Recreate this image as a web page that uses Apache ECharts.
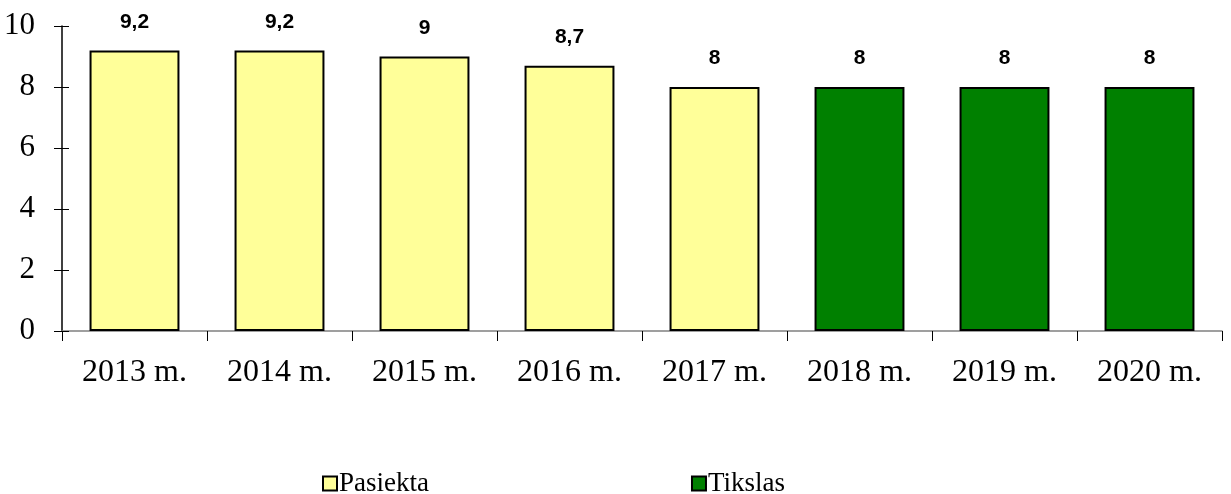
<!DOCTYPE html>
<html>
<head>
<meta charset="utf-8">
<script src="https://cdn.jsdelivr.net/npm/echarts@6/dist/echarts.min.js"></script>
<style>
  html, body { margin: 0; padding: 0; background: #fff; }
  #chart { width: 1231px; height: 494px; }
</style>
</head>
<body>
<div id="chart"></div>
<script>
var years = ['2013 m.', '2014 m.', '2015 m.', '2016 m.', '2017 m.', '2018 m.', '2019 m.', '2020 m.'];
var pasiekta = [9.2, 9.2, 9, 8.7, 8, null, null, null];
var tikslas = [null, null, null, null, null, 8, 8, 8];
var yTicks = [0, 2, 4, 6, 8, 10];

(function() {
  var serif = '"Liberation Serif", "Times New Roman", serif';
  var sans = '"Liberation Sans", Arial, sans-serif';

  var chart = echarts.init(document.getElementById('chart'), null, { renderer: 'canvas' });

  var label = {
    show: true,
    position: 'top',
    distance: 18,
    color: '#000',
    fontFamily: sans,
    fontWeight: 'bold',
    fontSize: 21,
    formatter: function(p) { return String(p.value).replace('.', ','); }
  };

  chart.setOption({
    animation: false,
    grid: { left: 62, right: 9, top: 26, bottom: 163 },
    legend: {
      left: 317,
      bottom: -8,
      itemGap: 262,
      itemWidth: 14,
      itemHeight: 14,
      icon: 'rect',
      itemStyle: { borderColor: '#000', borderWidth: 2 },
      textStyle: { fontFamily: serif, fontSize: 27, lineHeight: 27, color: '#000', padding: [0, 0, 0, -3] },
      data: ['Pasiekta', 'Tikslas']
    },
    xAxis: [{
      type: 'category',
      data: years,
      axisLine: { lineStyle: { color: '#808080', width: 1.5 } },
      axisTick: { show: true, length: 10, lineStyle: { color: '#000' } },
      axisLabel: { color: '#000', fontFamily: serif, fontSize: 32, margin: 26 }
    }, {
      type: 'category',
      data: years,
      position: 'bottom',
      axisLine: { show: false },
      axisTick: { show: true, inside: true, alignWithLabel: true, length: 7, lineStyle: { color: '#000' } },
      axisLabel: { show: false }
    }],
    yAxis: [{
      type: 'value',
      min: yTicks[0],
      max: yTicks[yTicks.length - 1],
      interval: 2,
      axisLine: { show: true, lineStyle: { color: '#000', width: 1.5 } },
      axisTick: { show: true, length: 8, lineStyle: { color: '#000' } },
      axisLabel: { color: '#000', fontFamily: serif, fontSize: 31, margin: 27 },
      splitLine: { show: false }
    }, {
      type: 'value',
      position: 'left',
      min: yTicks[0],
      max: yTicks[yTicks.length - 1],
      interval: 2,
      axisLine: { show: false },
      axisTick: { show: true, inside: true, length: 7, lineStyle: { color: '#000' } },
      axisLabel: { show: false },
      splitLine: { show: false }
    }],
    series: [{
      name: 'Pasiekta',
      type: 'bar',
      stack: 'all',
      barWidth: '62%',
      data: pasiekta,
      itemStyle: { color: '#FFFF99', borderColor: '#000', borderWidth: 2 },
      label: label
    }, {
      name: 'Tikslas',
      type: 'bar',
      stack: 'all',
      barWidth: '62%',
      data: tikslas,
      itemStyle: { color: '#008000', borderColor: '#000', borderWidth: 2 },
      label: label
    }]
  });
})();
</script>
</body>
</html>
